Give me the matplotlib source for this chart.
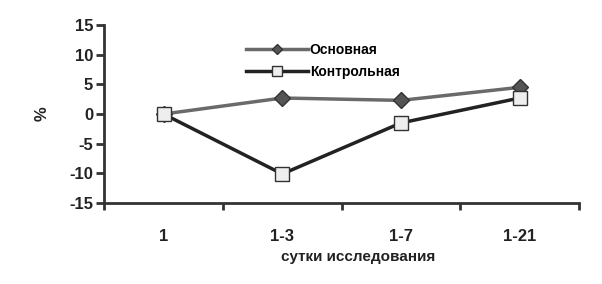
import matplotlib.pyplot as plt

days = ['1', '1-3', '1-7', '1-21']
main_group = [0, 2.7, 2.3, 4.5]
control_group = [0, -10.1, -1.5, 2.7]
y_ticks = [-15, -10, -5, 0, 5, 10, 15]

plt.rcParams['font.family'] = ['Liberation Sans', 'DejaVu Sans']
plt.rcParams['font.weight'] = 'bold'

fig = plt.figure(figsize=(6.02, 2.84), dpi=100)
ax = fig.add_axes([0.173, 0.285, 0.789, 0.627])

x = range(1, len(days) + 1)
ax.plot(x, main_group, color='#6a6a6a', lw=2.5, marker='D', ms=8,
        mfc='#555555', mec='#333333', mew=1, label='Основная')
ax.plot(x, control_group, color='#222222', lw=2.5, marker='s', ms=10,
        mfc='#eeeeee', mec='#333333', mew=1, label='Контрольная')

ax.set_xlim(0.5, len(days) + 0.5)
ax.set_ylim(-15, 15)
ax.set_yticks(y_ticks)
ax.set_yticklabels([str(v) for v in y_ticks], fontsize=12, fontweight='bold', color='#222222')
ax.set_xticks([i + 0.5 for i in range(len(days) + 1)])
ax.set_xticklabels([])
ax.set_xticks(list(x), minor=True)
ax.set_xticklabels(days, minor=True, fontsize=12, fontweight='bold', color='#222222')
ax.tick_params(axis='x', which='minor', length=0, pad=19)
ax.tick_params(axis='x', which='major', length=5, width=2, color='#333333')
ax.tick_params(axis='y', length=6, width=2, color='#333333', pad=2)

for s in ['top', 'right']:
    ax.spines[s].set_visible(False)
for s in ['left', 'bottom']:
    ax.spines[s].set_linewidth(2)
    ax.spines[s].set_color('#333333')

ax.set_ylabel('%', fontsize=12, fontweight='bold', color='#222222', labelpad=14)
ax.set_xlabel('сутки исследования', fontsize=11, fontweight='bold', color='#222222')
ax.xaxis.set_label_coords(0.535, -0.265)

ax.legend(loc='upper left', bbox_to_anchor=(0.275, 0.96), frameon=False,
          fontsize=10, handlelength=4.5, markerscale=0.7, labelspacing=0.55,
          handletextpad=0.1, borderpad=0.3)

fig.savefig('out.png', dpi=100)
